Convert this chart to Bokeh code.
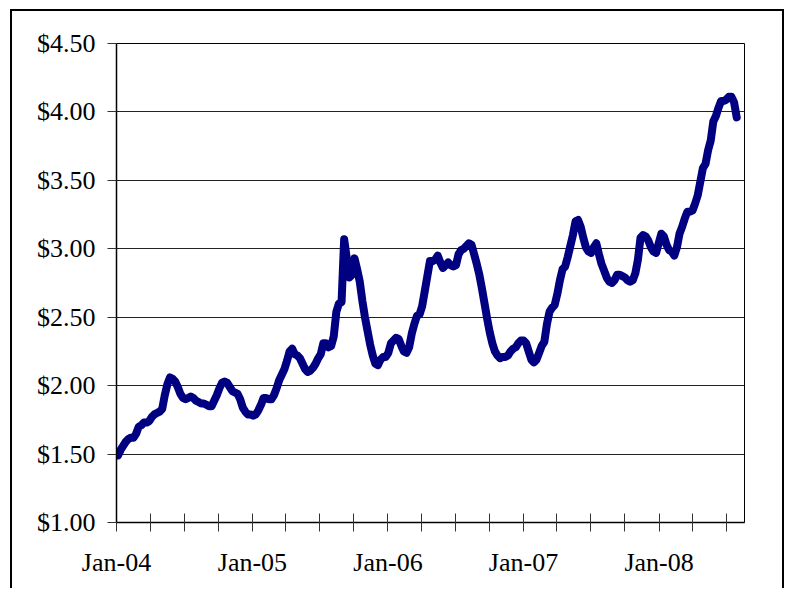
import pandas as pd
from bokeh.plotting import figure
from bokeh.models import Range1d, FixedTicker
from bokeh.embed import file_html
from bokeh.resources import INLINE

# Weekly retail gasoline price (USD/gal), first week = 2004-01-05
first_week = "2004-01-05"
axis_origin = "2004-01-01"
axis_end = "2008-08-18"

prices_2004 = [1.49, 1.53, 1.56, 1.59, 1.61, 1.62, 1.62, 1.65, 1.70, 1.71,
               1.73, 1.73, 1.74, 1.77, 1.79, 1.80, 1.81, 1.83, 1.93, 2.01,
               2.06, 2.05, 2.03, 1.99, 1.94, 1.91, 1.90, 1.91, 1.92, 1.91,
               1.89, 1.88, 1.87, 1.87, 1.86, 1.85, 1.85, 1.89, 1.93, 1.98,
               2.02, 2.03, 2.02, 1.99, 1.96, 1.95, 1.94, 1.90, 1.84, 1.81,
               1.79, 1.79]
prices_2005 = [1.78, 1.79, 1.82, 1.86, 1.91, 1.91, 1.90, 1.90, 1.93, 1.98,
               2.04, 2.08, 2.12, 2.18, 2.25, 2.27, 2.23, 2.22, 2.20, 2.16,
               2.12, 2.10, 2.11, 2.13, 2.16, 2.20, 2.23, 2.31, 2.31, 2.28,
               2.29, 2.36, 2.54, 2.60, 2.61, 3.07, 2.93, 2.79, 2.81, 2.93,
               2.85, 2.76, 2.62, 2.50, 2.40, 2.30, 2.22, 2.16, 2.15, 2.19,
               2.21, 2.21]
prices_2006 = [2.24, 2.31, 2.33, 2.35, 2.34, 2.29, 2.25, 2.24, 2.28, 2.38,
               2.45, 2.51, 2.52, 2.58, 2.69, 2.80, 2.91, 2.91, 2.92, 2.95,
               2.90, 2.86, 2.88, 2.90, 2.88, 2.87, 2.88, 2.96, 2.99, 3.00,
               3.02, 3.04, 3.03, 2.96, 2.89, 2.81, 2.71, 2.60, 2.49, 2.39,
               2.31, 2.25, 2.22, 2.20, 2.21, 2.21, 2.22, 2.25, 2.27, 2.28,
               2.31, 2.33]
prices_2007 = [2.33, 2.31, 2.25, 2.19, 2.17, 2.19, 2.24, 2.29, 2.32, 2.45,
               2.54, 2.57, 2.59, 2.67, 2.77, 2.85, 2.87, 2.94, 3.02, 3.10,
               3.20, 3.21, 3.16, 3.08, 3.01, 2.98, 2.97, 3.01, 3.04, 2.96,
               2.89, 2.84, 2.79, 2.76, 2.75, 2.77, 2.81, 2.81, 2.80, 2.79,
               2.77, 2.76, 2.77, 2.82, 2.92, 3.08, 3.10, 3.09, 3.06, 3.01,
               2.98, 2.97, 3.04]
prices_2008 = [3.11, 3.09, 3.03, 2.99, 2.98, 2.95, 3.01, 3.11, 3.16, 3.22,
               3.27, 3.27, 3.28, 3.33, 3.39, 3.49, 3.59, 3.62, 3.72, 3.79,
               3.93, 3.97, 4.03, 4.08, 4.08, 4.09, 4.11, 4.11, 4.07, 3.96]

prices = prices_2004 + prices_2005 + prices_2006 + prices_2007 + prices_2008

y_ticks = [1.0, 1.5, 2.0, 2.5, 3.0, 3.5, 4.0, 4.5]
y_labels = ["$1.00", "$1.50", "$2.00", "$2.50", "$3.00", "$3.50", "$4.00", "$4.50"]

origin = pd.Timestamp(axis_origin)
dates = pd.date_range(first_week, periods=len(prices), freq="7D")
x_days = [int((d - origin).days) for d in dates]

quarters = pd.date_range(axis_origin, "2008-07-01", freq="QS")
x_ticks = [int((d - origin).days) for d in quarters]
x_labels = [d.strftime("%b-%y") if d.month == 1 else "" for d in quarters]
x_end = int((pd.Timestamp(axis_end) - origin).days)

FONT = "Liberation Serif"

p = figure(width=774, height=579, output_backend="svg", toolbar_location=None,
           x_range=Range1d(0, x_end), y_range=Range1d(1.0, 4.5),
           min_border_left=104, min_border_right=42, min_border_top=32,
           min_border_bottom=68)
p.styles = {"margin-left": "10px", "margin-top": "9px",
            "border-left": "2px solid black", "border-top": "2px solid black",
            "border-right": "2px solid black"}

p.background_fill_color = "white"
p.border_fill_color = "white"
p.outline_line_color = "black"
p.outline_line_width = 1

p.line(x_days, prices, line_color="#000080", line_width=8,
       line_join="round", line_cap="round")

# x axis
p.xaxis.ticker = FixedTicker(ticks=x_ticks)
p.xaxis.major_label_overrides = dict(zip(x_ticks, x_labels))
p.xaxis.major_tick_in = 9
p.xaxis.major_tick_out = 9
p.xaxis.minor_tick_line_color = None
p.xaxis.axis_line_color = "black"
p.xaxis.axis_line_width = 1.5
p.xaxis.major_tick_line_color = "#333333"
p.xaxis.major_tick_line_width = 1
p.xaxis.major_label_text_font = FONT
p.xaxis.major_label_text_font_size = "26px"
p.xaxis.major_label_text_color = "black"
p.xaxis.major_label_standoff = 16

# y axis
p.yaxis.ticker = FixedTicker(ticks=y_ticks)
p.yaxis.major_label_overrides = dict(zip(y_ticks, y_labels))
p.yaxis.major_tick_in = 0
p.yaxis.major_tick_out = 9
p.yaxis.minor_tick_line_color = None
p.yaxis.axis_line_color = "black"
p.yaxis.axis_line_width = 1.5
p.yaxis.major_tick_line_color = "#333333"
p.yaxis.major_tick_line_width = 1
p.yaxis.major_label_text_font = FONT
p.yaxis.major_label_text_font_size = "26px"
p.yaxis.major_label_text_color = "black"
p.yaxis.major_label_standoff = 12

p.xgrid.visible = False
p.ygrid.ticker = FixedTicker(ticks=y_ticks)
p.ygrid.grid_line_color = "#222222"
p.ygrid.grid_line_width = 1

open("out.html", "w").write(file_html(p, INLINE))
